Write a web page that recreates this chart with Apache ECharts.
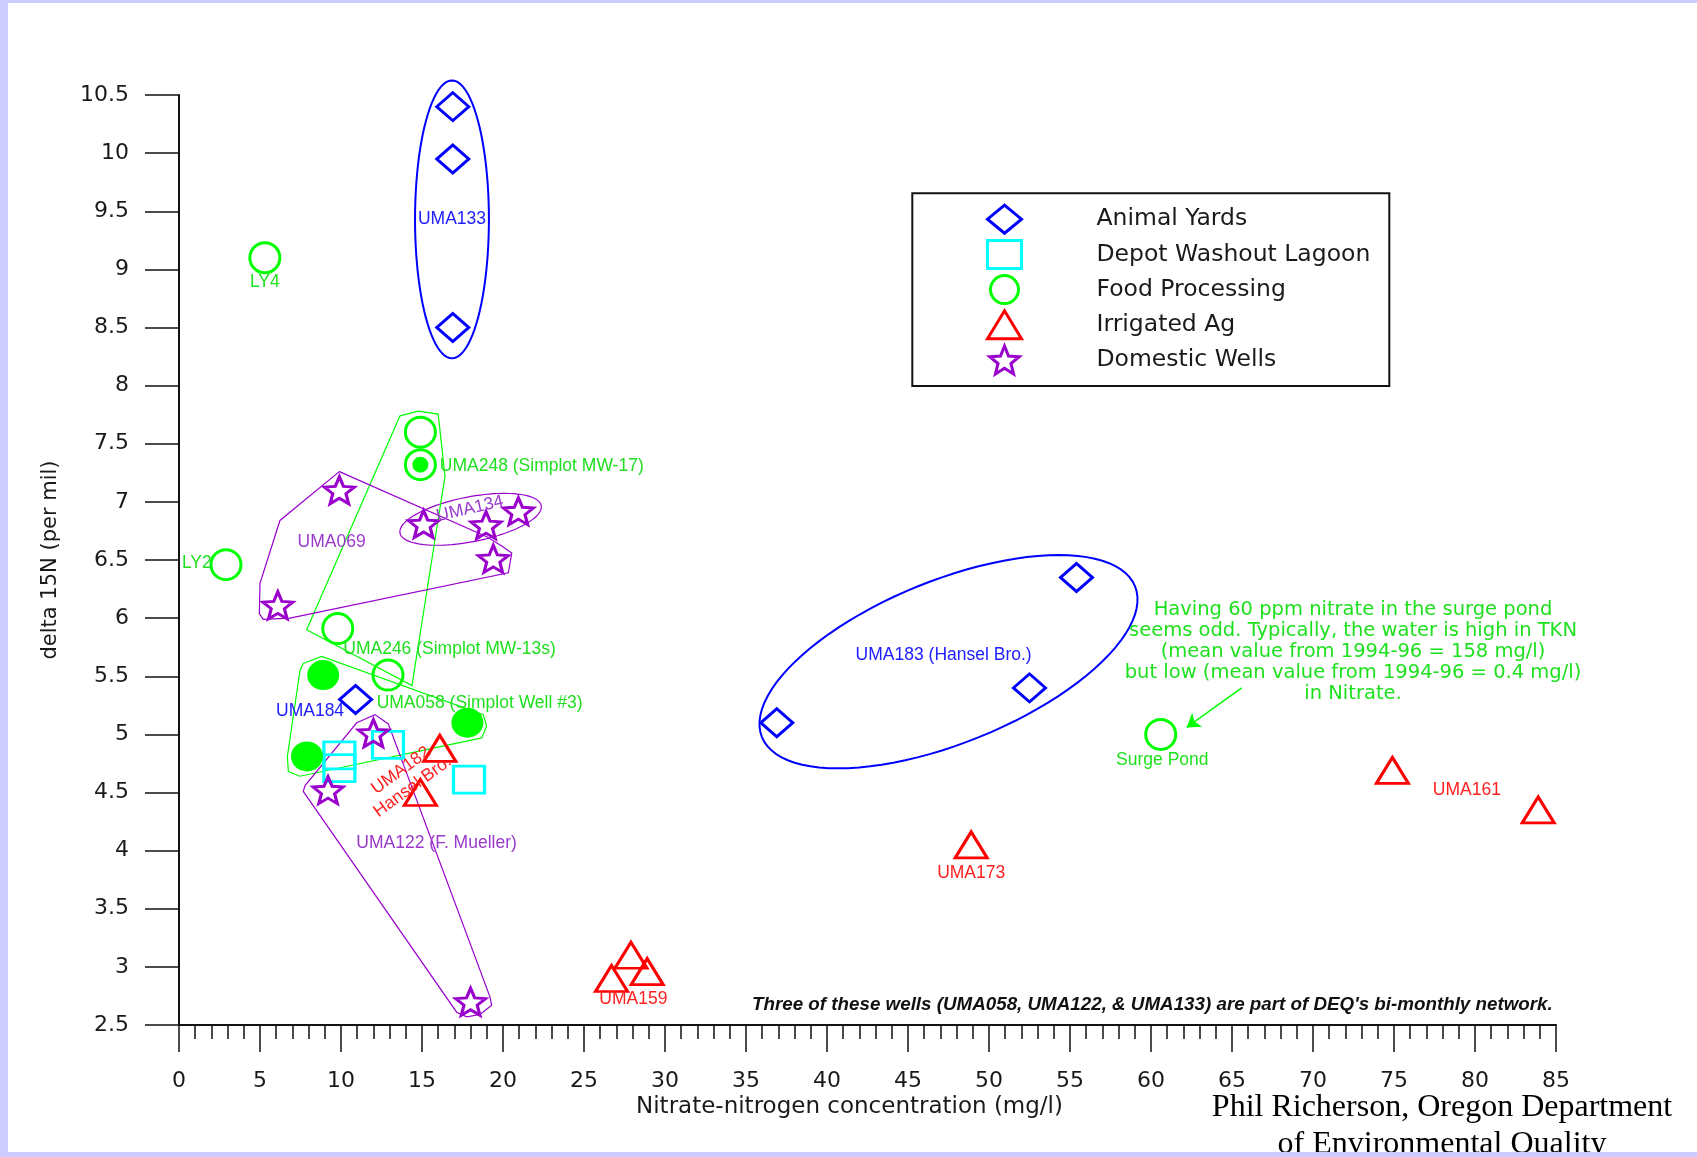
<!DOCTYPE html>
<html>
<head>
<meta charset="utf-8">
<title>delta 15N vs nitrate-nitrogen</title>
<script src="https://cdn.jsdelivr.net/npm/echarts@6.0.0/dist/echarts.min.js"></script>
<style>
  html, body { margin: 0; padding: 0; background: #ccccff; overflow: hidden; }
  #main { position: absolute; left: 8px; top: 3px; width: 1689px; height: 1149px; background: #ffffff; }
</style>
</head>
<body>
<div id="main"></div>
<script>
// legend groups
const groups = ['Animal Yards', 'Depot Washout Lagoon', 'Food Processing', 'Irrigated Ag', 'Domestic Wells']

// points: [nitrate-nitrogen (mg/l), delta 15N (per mil)]
const animalYards = [[16.9, 10.4], [16.9, 9.95], [16.9, 8.5], [10.9, 5.3], [36.9, 5.1], [52.5, 5.4], [55.4, 6.35]]
const depotLagoon = [[9.9, 4.82], [9.9, 4.71], [12.9, 4.91], [17.9, 4.61]]
const foodOpen = [[5.3, 9.1], [2.9, 6.46], [14.9, 7.6], [14.9, 7.32], [9.8, 5.91], [12.9, 5.51], [60.6, 5.0]]
const foodFilled = [[8.9, 5.51], [7.9, 4.81], [17.8, 5.1]]
const foodDot = [[14.9, 7.32]]
const irrigatedAg = [[16.1, 4.88], [14.9, 4.5], [27.9, 3.1], [26.7, 2.9], [28.9, 2.96], [48.9, 4.05], [74.9, 4.69], [83.9, 4.35]]
const domesticWells = [[9.9, 7.1], [15.1, 6.81], [18.95, 6.8], [20.95, 6.92], [19.4, 6.51], [6.1, 6.11], [12.0, 5.01], [9.2, 4.52], [18.0, 2.7]]

// axes
const xRange = [0, 85]
const yRange = [2.5, 10.5]

// hand drawn groupings (data units)
const outlines = [
  { type: 'ellipse', group: 'animal', center: [16.85, 9.43], radius: [2.28, 1.195], tilt: 0 },
  { type: 'ellipse', group: 'animal', center: [47.5, 5.625], radius: [12.42, 0.70], tilt: 22 },
  { type: 'ellipse', group: 'wells', center: [18.0, 6.85], radius: [4.44, 0.193], tilt: 11 },
  { type: 'polygon', group: 'food', points: [[13.64, 7.74], [14.77, 7.78], [16.0, 7.755], [16.42, 7.22], [14.38, 5.42], [7.88, 5.9]] },
  { type: 'polygon', group: 'wells', points: [[9.9, 7.26], [19.0, 6.7], [19.92, 6.62], [20.54, 6.56], [20.33, 6.39], [6.85, 6.0], [5.2, 5.99], [4.96, 6.04], [5.0, 6.3], [6.23, 6.84]] },
  { type: 'polygon', group: 'food', points: [[7.67, 5.61], [8.81, 5.67], [18.78, 5.17], [18.99, 5.07], [18.69, 4.97], [7.47, 4.64], [6.75, 4.68], [6.69, 4.81], [7.47, 5.55]] },
  { type: 'polygon', group: 'wells', points: [[10.97, 5.1], [12.1, 5.17], [12.92, 5.09], [19.2, 2.74], [19.3, 2.67], [18.58, 2.59], [17.76, 2.57], [17.14, 2.61], [7.67, 4.51], [7.78, 4.56]] },
]

const noteText = 'Having 60 ppm nitrate in the surge pond\nseems odd. Typically, the water is high in TKN\n(mean value from 1994-96 = 158 mg/l)\nbut low (mean value from 1994-96 = 0.4 mg/l)\nin Nitrate.'
const footnote = "Three of these wells (UMA058, UMA122, & UMA133) are part of DEQ's bi-monthly network."

// [text, x, y, group]
const notes = [
  ['UMA133', 16.85, 9.43, 'animal'],
  ['LY4', 5.3, 8.89, 'food'],
  ['LY2', 1.1, 6.47, 'food'],
  ['UMA248 (Simplot MW-17)', 16.1, 7.31, 'food'],
  ['UMA134', 17.96, 6.94, 'wells'],
  ['UMA069', 9.42, 6.65, 'wells'],
  ['UMA246 (Simplot MW-13s)', 10.14, 5.73, 'food'],
  ['UMA058 (Simplot Well #3)', 12.2, 5.27, 'food'],
  ['UMA184', 8.09, 5.2, 'animal'],
  ['UMA182\nHansel Bro.', 14.06, 4.62, 'irrigated'],
  ['UMA122 (F. Mueller)', 15.9, 4.06, 'wells'],
  ['UMA159', 28.05, 2.72, 'irrigated'],
  ['UMA183 (Hansel Bro.)', 47.2, 5.68, 'animal'],
  ['Surge Pond', 60.7, 4.78, 'food'],
  ['UMA173', 48.9, 3.81, 'irrigated'],
  ['UMA161', 79.5, 4.52, 'irrigated'],
  [noteText, 72.47, 5.71, 'food'],
  [footnote, 84.8, 2.67, 'plain'],
]

// arrow from the note to the surge pond
const arrow = [[65.6, 5.4], [62.2, 5.06]]

const BLUE = '#0000ff'
const CYAN = '#00ffff'
const GREEN = '#00ff00'
const RED = '#ff0000'
const PURPLE = '#9900cc'
const lineColor = { animal: BLUE, food: GREEN, wells: PURPLE, irrigated: RED }
const textColor = { animal: '#2020ff', food: '#1ee01e', wells: '#9a3acc', irrigated: '#ff2020', plain: '#111111' }
const STAR = 'path://M50 0 L62.93 32.2 L97.55 34.55 L70.92 56.8 L79.39 90.45 L50 72 L20.61 90.45 L29.08 56.8 L2.45 34.55 L37.07 32.2 Z'
const SANS = '"Liberation Sans", Arial, sans-serif'
const WIDE = '"DejaVu Sans", Verdana, sans-serif'
const SERIF = '"Liberation Serif", "Times New Roman", serif'

const noteLook = {
  'UMA248 (Simplot MW-17)': { align: 'left' },
  'UMA246 (Simplot MW-13s)': { align: 'left' },
  'UMA058 (Simplot Well #3)': { align: 'left' },
  'UMA134': { rotate: 13 },
  'UMA182\nHansel Bro.': { rotate: 36, lineHeight: 20 },
}
noteLook[noteText] = { fontFamily: WIDE, fontSize: 19.5, lineHeight: 21 }
noteLook[footnote] = { align: 'right', fontSize: 18.8, fontStyle: 'italic', fontWeight: 'bold' }

const myChart = echarts.init(document.getElementById('main'))

function hollow(name, data, symbol, size, color) {
  return {
    name: name,
    type: 'scatter',
    data: data,
    symbol: symbol,
    symbolSize: size,
    symbolKeepAspect: false,
    itemStyle: { color: 'rgba(0,0,0,0)', borderColor: color, borderWidth: 3, opacity: 1 },
    emphasis: { disabled: true },
    z: 3,
  }
}

function drawOutline(params, api) {
  const o = outlines[params.dataIndex]
  let pts
  if (o.type === 'ellipse') {
    const c = api.coord(o.center)
    const a = api.size([o.radius[0], 0])[0]
    const b = api.size([0, o.radius[1]])[1]
    const t = o.tilt * Math.PI / 180
    pts = []
    for (let i = 0; i < 96; i++) {
      const u = i / 96 * Math.PI * 2
      const px = a * Math.cos(u)
      const py = b * Math.sin(u)
      pts.push([c[0] + px * Math.cos(t) + py * Math.sin(t), c[1] - px * Math.sin(t) + py * Math.cos(t)])
    }
  } else {
    pts = o.points.map(p => api.coord(p))
  }
  return {
    type: 'polygon',
    shape: { points: pts },
    style: { fill: 'none', stroke: lineColor[o.group], lineWidth: o.type === 'ellipse' && o.group === 'animal' ? 2 : 1.2 },
    silent: true,
  }
}

function drawNote(params, api) {
  const n = notes[params.dataIndex]
  const p = api.coord([n[1], n[2]])
  const look = noteLook[n[0]] || {}
  const style = {
    text: n[0],
    fill: textColor[n[3]],
    fontFamily: look.fontFamily || SANS,
    fontSize: look.fontSize || 17.5,
    fontStyle: look.fontStyle || 'normal',
    fontWeight: look.fontWeight || 'normal',
    align: look.align || 'center',
    verticalAlign: 'middle',
  }
  if (look.lineHeight) style.lineHeight = look.lineHeight
  return {
    type: 'text',
    x: p[0],
    y: p[1],
    rotation: (look.rotate || 0) * Math.PI / 180,
    style: style,
    silent: true,
  }
}

const option = {
  animation: false,
  backgroundColor: '#ffffff',
  grid: { left: 171, top: 92, width: 1377, height: 930, outerBoundsMode: 'none', containLabel: false },
  xAxis: {
    type: 'value',
    min: xRange[0],
    max: xRange[1],
    interval: 5,
    name: 'Nitrate-nitrogen concentration (mg/l)',
    nameLocation: 'middle',
    nameGap: 71,
    nameMoveOverlap: false,
    nameTextStyle: { fontFamily: WIDE, fontSize: 23, color: '#1a1a1a', padding: [0, 36, 0, 0] },
    axisLine: { onZero: false, lineStyle: { color: '#111', width: 2 } },
    axisTick: { length: 27, lineStyle: { color: '#111', width: 1.5 } },
    minorTick: { show: true, splitNumber: 5, length: 14, lineStyle: { color: '#111', width: 1.5 } },
    splitLine: { show: false },
    minorSplitLine: { show: false },
    axisLabel: { margin: 45, fontFamily: WIDE, fontSize: 22, color: '#1a1a1a' },
  },
  yAxis: {
    type: 'value',
    min: yRange[0],
    max: yRange[1],
    interval: 0.5,
    name: 'delta 15N (per mil)',
    nameLocation: 'middle',
    nameGap: 118,
    nameMoveOverlap: false,
    nameTextStyle: { fontFamily: WIDE, fontSize: 21, color: '#1a1a1a' },
    axisLine: { show: true, onZero: false, lineStyle: { color: '#111', width: 2 } },
    axisTick: { show: true, length: 34, lineStyle: { color: '#111', width: 1.5 } },
    splitLine: { show: false },
    axisLabel: { margin: 50, fontFamily: WIDE, fontSize: 22, color: '#1a1a1a' },
  },
  legend: {
    orient: 'vertical',
    left: 978,
    top: 200.7,
    itemWidth: 34,
    itemHeight: 28,
    itemGap: 4.2,
    padding: 0,
    selectedMode: false,
    itemStyle: { borderWidth: 3 },
    textStyle: { fontFamily: WIDE, fontSize: 23.5, color: '#1a1a1a', lineHeight: 28, padding: [0, 0, 0, 70] },
    data: [
      { name: groups[0], icon: 'diamond' },
      { name: groups[1], icon: 'rect' },
      { name: groups[2], icon: 'circle' },
      { name: groups[3], icon: 'triangle' },
      { name: groups[4], icon: STAR },
    ],
  },
  graphic: [
    {
      type: 'rect',
      shape: { x: 904.3, y: 190.3, width: 477, height: 192.7 },
      style: { fill: 'none', stroke: '#111', lineWidth: 2 },
      silent: true,
    },
    {
      type: 'text',
      x: 1434,
      y: 1104.5,
      style: { text: 'Phil Richerson, Oregon Department', fontFamily: SERIF, fontSize: 32, fill: '#000', align: 'center', verticalAlign: 'middle' },
      silent: true,
    },
    {
      type: 'text',
      x: 1434,
      y: 1142,
      style: { text: 'of Environmental Quality', fontFamily: SERIF, fontSize: 32, fill: '#000', align: 'center', verticalAlign: 'middle' },
      silent: true,
    },
  ],
  series: [
    {
      name: 'outlines',
      type: 'custom',
      renderItem: drawOutline,
      data: outlines.map(o => (o.center ? o.center : o.points[0])),
      silent: true,
      z: 1,
    },
    {
      name: 'arrow',
      type: 'lines',
      coordinateSystem: 'cartesian2d',
      data: [{ coords: arrow }],
      symbol: ['none', 'arrow'],
      symbolSize: 13,
      lineStyle: { color: GREEN, width: 1.5, opacity: 1, curveness: 0 },
      silent: true,
      z: 2,
    },
    hollow(groups[0], animalYards, 'diamond', [32, 28], BLUE),
    hollow(groups[1], depotLagoon, 'rect', [31, 27], CYAN),
    hollow(groups[2], foodOpen, 'circle', 30, GREEN),
    {
      name: 'food filled',
      type: 'scatter',
      data: foodFilled,
      symbol: 'circle',
      symbolSize: [32, 30],
      itemStyle: { color: GREEN, opacity: 1 },
      emphasis: { disabled: true },
      z: 3,
    },
    {
      name: 'food dot',
      type: 'scatter',
      data: foodDot,
      symbol: 'circle',
      symbolSize: 16,
      itemStyle: { color: GREEN, opacity: 1 },
      emphasis: { disabled: true },
      z: 3,
    },
    hollow(groups[3], irrigatedAg, 'triangle', [32, 26], RED),
    hollow(groups[4], domesticWells, STAR, [30, 27], PURPLE),
    {
      name: 'notes',
      type: 'custom',
      renderItem: drawNote,
      data: notes.map(n => [n[1], n[2]]),
      silent: true,
      z: 4,
    },
  ],
}

myChart.setOption(option)
window.addEventListener('resize', function () {
  myChart.resize()
})
</script>
</body>
</html>
